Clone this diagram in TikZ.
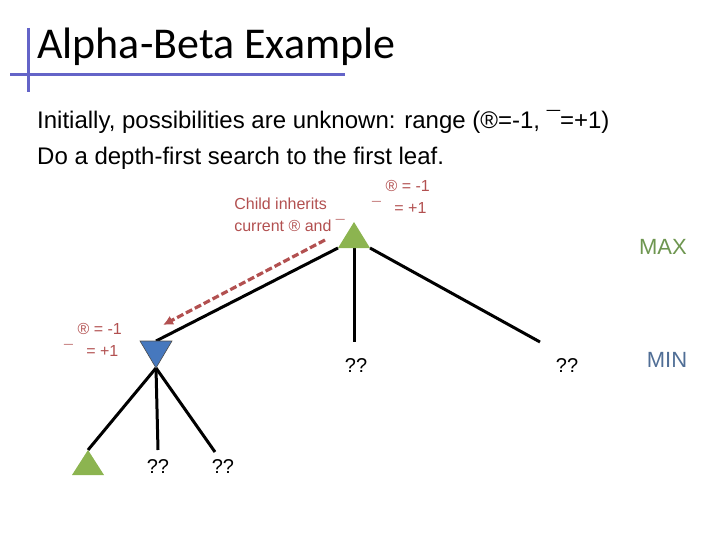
\documentclass[tikz,border=0pt]{standalone}
\usepackage{fontspec}
\usetikzlibrary{arrows.meta}
\setmainfont{Liberation Sans}
\newfontfamily\titlefont{Carlito}
\definecolor{rd}{RGB}{178,80,80}
\definecolor{gr}{RGB}{140,180,80}
\definecolor{bl}{RGB}{70,120,190}
\definecolor{bar}{RGB}{100,100,200}
\definecolor{maxc}{RGB}{110,150,80}
\definecolor{minc}{RGB}{80,110,150}
\begin{document}
\begin{tikzpicture}[x=1pt,y=-1pt,
  edge/.style={line width=3pt},
  lab/.style={text=rd,font=\fontsize{16}{22}\selectfont,align=left,inner sep=0pt},
  q/.style={font=\fontsize{20}{22}\selectfont,inner sep=0pt}]
\useasboundingbox (0,0) rectangle (720,540);
\draw[bar,line width=3pt] (28,28) -- (28,92);
\draw[bar,line width=3pt] (10,75) -- (345,75);
\node[anchor=west,inner sep=0pt,font=\titlefont\fontsize{44}{48}\selectfont] (title) at (37,47) {Alpha-Beta Example};
\node[anchor=west,inner sep=0pt,font=\fontsize{24}{26}\selectfont] (l1) at (37,122) {Initially, possibilities are unknown: range (®=-1, ¯=+1)};
\node[anchor=west,inner sep=0pt,font=\fontsize{24}{26}\selectfont] (l2) at (37,158) {Do a depth-first search to the first leaf.};
% nodes
\coordinate (rA) at (354,222); \coordinate (rL) at (338,248); \coordinate (rR) at (370,248);
\coordinate (rB) at (354,248);
\coordinate (bL) at (140,341); \coordinate (bR) at (172,341); \coordinate (bB) at (156,368);
\coordinate (m) at (354,342); \coordinate (r) at (540,342);
\coordinate (gA) at (88,450); \coordinate (gL) at (72,475); \coordinate (gR) at (104,475);
\coordinate (c2) at (158,450); \coordinate (c3) at (215,452);
\draw[edge] (rL) -- (156,341);
\draw[edge] (rB) -- (m);
\draw[edge] (rR) -- (r);
\draw[edge] (bB) -- (gA);
\draw[edge] (bB) -- (c2);
\draw[edge] (bB) -- (c3);
\fill[gr] (rA) -- (rL) -- (rR) -- cycle;
\fill[bl] (bL) -- (bR) -- (bB) -- cycle;
\draw[black!70,line width=0.6pt] (bL) -- (bR) -- (bB) -- cycle;
\fill[gr] (gA) -- (gL) -- (gR) -- cycle;
\node[q] (q1) at (356,366) {??};
\node[q] (q2) at (567,366) {??};
\node[q] (q3) at (158,467) {??};
\node[q] (q4) at (223,467) {??};
\node[lab,anchor=north west] (rl) at (372,180) {\ \ \ ® = -1\\¯\ \ \ = +1};
\node[lab,anchor=east] (ci) at (345,215) {Child inherits\\current ® and ¯};
\node[lab,anchor=north west] (bl) at (64,323) {\ \ \ ® = -1\\¯\ \ \ = +1};
\node[font=\fontsize{22}{24}\selectfont,text=maxc] (max) at (663,247) {MAX};
\node[font=\fontsize{22}{24}\selectfont,text=minc] (min) at (667,360) {MIN};
\coordinate (as) at (325,240); \coordinate (ae) at (163,325);
\draw[rd,line width=3.2pt,dash pattern=on 7pt off 3pt,-{Latex[length=10pt,width=10pt]}] (as) -- (ae);
\end{tikzpicture}
\end{document}
